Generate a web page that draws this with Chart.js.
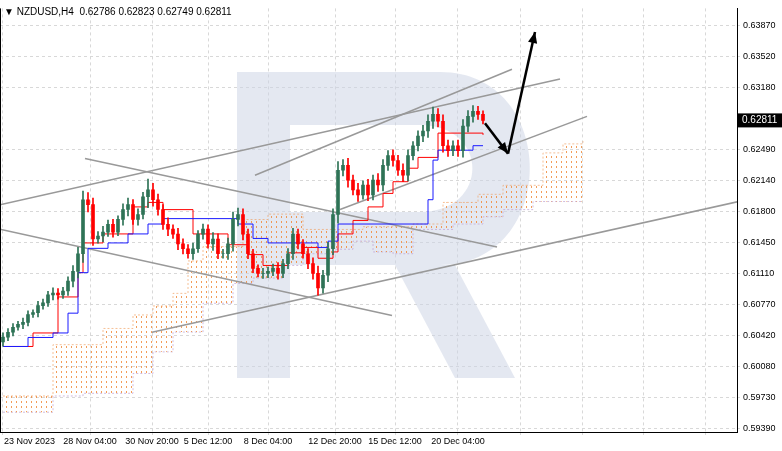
<!DOCTYPE html>
<html><head><meta charset="utf-8">
<script src="https://cdn.jsdelivr.net/npm/chart.js@4.4.0/dist/chart.umd.min.js"></script>
<style>html,body{margin:0;padding:0;background:#fff}#w{width:782px;height:451px}</style>
</head><body><div id="w"><canvas id="c"></canvas></div>
<script>
const closes=[0.60404,0.60458,0.60513,0.60546,0.60567,0.60655,0.60676,0.60753,0.60785,0.60873,0.60894,0.60873,0.60916,0.61025,0.61134,0.61330,0.61930,0.61875,0.61494,0.61527,0.61570,0.61657,0.61570,0.61712,0.61821,0.61875,0.61712,0.61766,0.61963,0.62039,0.61930,0.61821,0.61657,0.61603,0.61548,0.61439,0.61385,0.61330,0.61385,0.61548,0.61603,0.61439,0.61494,0.61330,0.61330,0.61439,0.61712,0.61766,0.61548,0.61330,0.61167,0.61112,0.61112,0.61134,0.61167,0.61112,0.61221,0.61330,0.61548,0.61439,0.61330,0.61221,0.61112,0.60949,0.61091,0.61385,0.61766,0.62257,0.62311,0.62148,0.62039,0.61984,0.62093,0.61984,0.62148,0.62093,0.62311,0.62420,0.62366,0.62257,0.62202,0.62420,0.62529,0.62638,0.62693,0.62802,0.62878,0.62802,0.62529,0.62475,0.62529,0.62475,0.62747,0.62856,0.62911,0.62878,0.62811];
const firstOpen=0.6035;
const wicks=[6,5,5,4,6,5,4,6,5,5,7,6,5,6,8,9,12,10,9,6,8,6,7,5,8,9,7,8,6,15,9,8,7,9,6,8,7,6,8,5,7,6,9,7,6,8,10,9,8,7,6,5,7,6,6,8,6,7,8,7,6,7,8,10,7,9,8,12,8,10,7,9,6,8,7,9,8,7,8,7,9,8,6,7,8,9,10,8,9,8,7,8,9,8,8,7,5];
const tenkan=[[0,0.6030],[6,0.6045],[11,0.6085],[15,0.6112],[16,0.6145],[20,0.6155],[26,0.6185],[29,0.6190],[32,0.6182],[38,0.6155],[45,0.6143],[49,0.6132],[52,0.6120],[57,0.6134],[60,0.6140],[63,0.6128],[66,0.6135],[67,0.6155],[70,0.6170],[73,0.6185],[76,0.6200],[78,0.6213],[81,0.6228],[83,0.6240],[87,0.6267],[90,0.6267],[96,0.6265]];
const kijun=[[0,0.6030],[5,0.6040],[10,0.6045],[13,0.6067],[15,0.6112],[17,0.6139],[21,0.6145],[25,0.6155],[29,0.6166],[32,0.6172],[46,0.6172],[47,0.6166],[50,0.6150],[53,0.6145],[63,0.6140],[65,0.6147],[67,0.6166],[84,0.6166],[85,0.6193],[86,0.6237],[87,0.6248],[92,0.6248],[94,0.6253],[96,0.6253]];
const spanA=[[0,0.5975],[9,0.5975],[10,0.6032],[16,0.6032],[20,0.6050],[26,0.6065],[30,0.6075],[34,0.6089],[37,0.6125],[40,0.6141],[48,0.6171],[53,0.6177],[60,0.6160],[66,0.6160],[72,0.6163],[82,0.6166],[88,0.6190],[95,0.6199],[100,0.6209],[108,0.6245],[112,0.6255],[116,0.6258]];
const spanB=[[0,0.5957],[9,0.5957],[10,0.5975],[16,0.5978],[26,0.6000],[30,0.6024],[34,0.6046],[40,0.6078],[46,0.6100],[50,0.6106],[56,0.6120],[60,0.6133],[66,0.6138],[70,0.6147],[74,0.6135],[78,0.6133],[82,0.6160],[90,0.6166],[96,0.6174],[100,0.6182],[106,0.6191],[116,0.6191]];
const trendLines=[[[-0.6,0.61875],[111.4,0.63270]],[[16.4,0.62387],[98.8,0.61406]],[[-0.6,0.61603],[77.8,0.60644]],[[29.8,0.60458],[154,0.61995]],[[50.4,0.62202],[101.8,0.63379]],[[67.4,0.61821],[116.8,0.62856]]];
const arrows=[[[96.4,0.62780],[101,0.62442]],[[101,0.62442],[106.4,0.63794]]];
const yTicks=[0.63870,0.63520,0.63180,0.62490,0.62140,0.61800,0.61450,0.61110,0.60770,0.60420,0.60080,0.59730,0.59390];
const xTickIdx=[0,17.4,29.8,41,53,66.4,78.4,91,103.4,115.8,128.2,140.6];
const xTickLabels=['23 Nov 2023','28 Nov 04:00','30 Nov 20:00','5 Dec 12:00','8 Dec 04:00','12 Dec 20:00','15 Dec 12:00','20 Dec 04:00','','','',''];
const lastPrice=0.62811;
const title='▼ NZDUSD,H4  0.62786 0.62823 0.62749 0.62811';

const opens=closes.map((c,i)=>i?closes[i-1]:firstOpen);
const bodies=closes.map((c,i)=>({x:i,y:[opens[i],c]}));
const wickData=closes.map((c,i)=>({x:i,y:[Math.min(opens[i],c)-wicks[i]*1e-4*0.8,Math.max(opens[i],c)+wicks[i]*1e-4*0.8]}));
const col=closes.map((c,i)=>c>=opens[i]?'#2e7356':'#ff0000');
const pts=a=>a.map(p=>({x:p[0],y:p[1]}));

const cv=document.createElement('canvas');cv.width=5;cv.height=5;
const g=cv.getContext('2d');g.fillStyle='rgba(240,140,60,0.85)';g.fillRect(1,1,1,2);
const pat=g.createPattern(cv,'repeat');
const F='"Liberation Sans", Arial, sans-serif';

const bg={id:'bg',beforeDatasetsDraw(ch){const c=ch.ctx;c.save();c.fillStyle='rgba(205,213,230,0.55)';
c.fillRect(237,72,53,306);
c.beginPath();c.moveTo(290,72);c.lineTo(440,72);c.bezierCurveTo(560,72,560,265,440,265);c.lineTo(290,265);c.lineTo(290,212);c.lineTo(420,212);c.bezierCurveTo(490,212,490,125,420,125);c.lineTo(290,125);c.closePath();c.fill();
c.beginPath();c.moveTo(395,265);c.lineTo(455,265);c.lineTo(515,378);c.lineTo(455,378);c.closePath();c.fill();c.restore();},
afterDraw(ch){const c=ch.ctx,xs=ch.scales.x,ys=ch.scales.y;c.save();
c.strokeStyle='#000';c.fillStyle='#000';c.lineWidth=2.5;
arrows.forEach(a=>{const x1=xs.getPixelForValue(a[0][0]),y1=ys.getPixelForValue(a[0][1]),x2=xs.getPixelForValue(a[1][0]),y2=ys.getPixelForValue(a[1][1]);
c.beginPath();c.moveTo(x1,y1);c.lineTo(x2,y2);c.stroke();const an=Math.atan2(y2-y1,x2-x1);
c.beginPath();c.moveTo(x2,y2);c.lineTo(x2-12*Math.cos(an-0.4),y2-12*Math.sin(an-0.4));c.lineTo(x2-12*Math.cos(an+0.4),y2-12*Math.sin(an+0.4));c.closePath();c.fill();});
c.font='10px '+F;c.fillStyle='#000';c.textBaseline='middle';c.fillText(title,4,12);
const ly=ys.getPixelForValue(lastPrice);c.fillStyle='#000';c.fillRect(738,ly-7,44,14);c.fillStyle='#fff';c.font='10px '+F;c.fillText(lastPrice.toFixed(5),742,ly);
c.fillStyle='#000';c.textBaseline='top';c.font='9px '+F;
c.strokeStyle='#000';c.lineWidth=1;c.beginPath();c.moveTo(xs.left,ys.bottom+0.5);c.lineTo(xs.right,ys.bottom+0.5);c.moveTo(xs.left+0.5,ys.top);c.lineTo(xs.left+0.5,ys.bottom);c.moveTo(xs.right+0.5,ys.top);c.lineTo(xs.right+0.5,ys.bottom);c.stroke();
xTickIdx.forEach((v,i)=>{if(!xTickLabels[i])return;const x=xs.getPixelForValue(v);c.textAlign=i?'center':'left';c.fillText(xTickLabels[i],i?x:x+1,437);});
c.restore();}};

const ds=[
{type:'line',data:pts(spanA),borderColor:'rgba(240,150,80,0.6)',borderWidth:1,borderDash:[2,2],pointRadius:0,stepped:true,fill:'+1',backgroundColor:pat,order:9},
{type:'line',data:pts(spanB),borderColor:'rgba(190,160,210,0.7)',borderWidth:1,borderDash:[2,2],pointRadius:0,stepped:true,fill:false,order:9},
...trendLines.map(l=>({type:'line',data:pts(l),borderColor:'#999',borderWidth:1.5,pointRadius:0,fill:false,order:8})),
{type:'line',data:pts(kijun),borderColor:'#1a1aff',borderWidth:1,pointRadius:0,stepped:true,fill:false,order:3},
{type:'line',data:pts(tenkan),borderColor:'#ff0000',borderWidth:1,pointRadius:0,stepped:true,fill:false,order:3},
{type:'bar',data:wickData,backgroundColor:col,barThickness:1,grouped:false,order:2},
{type:'bar',data:bodies,backgroundColor:col,borderColor:col,borderWidth:0,barThickness:3,grouped:false,order:1}
];
new Chart(document.getElementById('c'),{data:{datasets:ds},plugins:[bg],
options:{responsive:true,maintainAspectRatio:false,animation:false,layout:{padding:0},
plugins:{legend:{display:false},tooltip:{enabled:false}},
scales:{
x:{type:'linear',offset:false,min:-0.6,max:146.8,afterBuildTicks:a=>{a.ticks=xTickIdx.map(v=>({value:v}))},afterFit:a=>{a.height=19},
 ticks:{display:false},grid:{color:'#d8d8d8',tickLength:3,drawTicks:true,offset:false},border:{color:'#000',dash:[3,3]}},
y:{position:'right',min:0.5935,max:0.64055,afterBuildTicks:a=>{a.ticks=yTicks.map(v=>({value:v}))},afterFit:a=>{a.width=45},
 ticks:{font:{size:9,family:F},color:'#000',padding:3,callback:v=>v.toFixed(5)},grid:{color:'#d8d8d8',tickLength:3},border:{color:'#000',dash:[3,3]}}
}}});
</script></body></html>
